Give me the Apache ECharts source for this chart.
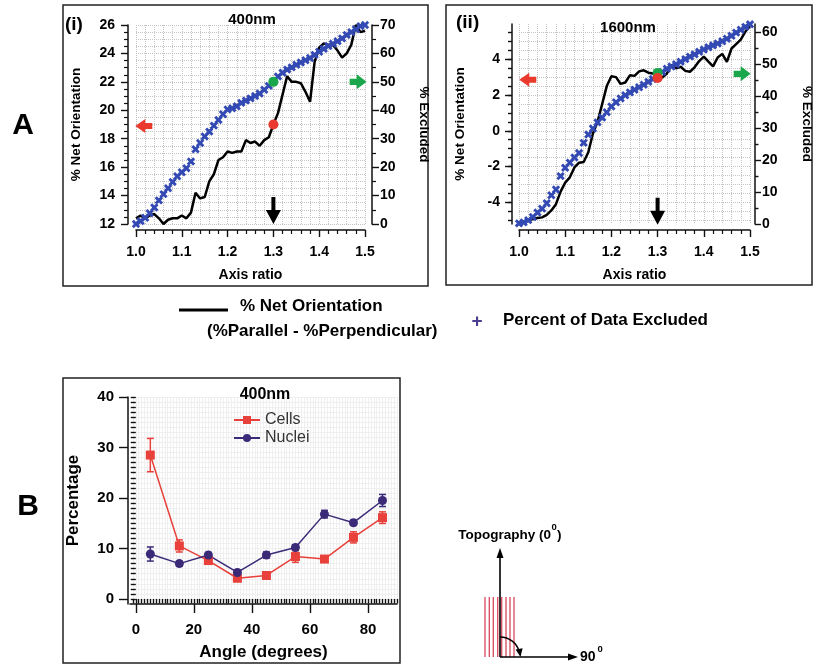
<!DOCTYPE html>
<html><head><meta charset="utf-8">
<script src="https://cdn.jsdelivr.net/npm/echarts@6/dist/echarts.min.js"></script>
<style>html,body{margin:0;padding:0;background:#fff}#c{width:815px;height:669px}</style>
</head><body><div id="c"></div>
<script>
// ---------------- DATA ----------------
const axisRatio = [1.00,1.01,1.02,1.03,1.04,1.05,1.06,1.07,1.08,1.09,1.10,1.11,1.12,1.13,1.14,1.15,1.16,1.17,1.18,1.19,1.20,1.21,1.22,1.23,1.24,1.25,1.26,1.27,1.28,1.29,1.30,1.31,1.32,1.33,1.34,1.35,1.36,1.37,1.38,1.39,1.40,1.41,1.42,1.43,1.44,1.45,1.46,1.47,1.48,1.49,1.50];
const netOrient400 = [12.4,12.6,12.4,12.6,12.7,12.4,12.0,12.3,12.4,12.4,
  12.6,12.4,12.8,14.2,13.8,13.9,15.0,15.5,16.5,16.7,
  17.1,17.0,17.1,17.1,17.9,17.7,17.8,17.5,17.9,18.1,
  19.0,19.8,21.1,22.4,22.0,22.0,21.9,21.3,20.6,23.4,
  24.4,24.7,24.6,24.6,24.2,23.7,24.0,24.6,26.0,25.5,25.6];
const excluded400 = [0,1.0,2.2,3.8,5.8,8.3,10.5,12.6,14.8,16.8,
  18.2,19.6,22.0,26.3,28.5,30.8,32.5,34.6,36.6,38.6,
  40.3,40.7,41.4,42.6,43.4,44.2,45.0,45.9,47.2,48.6,
  50.1,51.9,53.2,54.3,55.1,56.0,56.8,57.6,58.4,59.5,
  60.6,61.6,62.6,63.4,64.3,65.3,66.5,67.5,68.5,69.6,70.0];
const netOrient1600 = [-5.15,-5.1,-5.02,-4.93,-4.88,-4.84,-4.7,-4.45,-4.1,-3.4,
  -2.9,-2.6,-2.05,-1.78,-1.74,-1.2,-0.15,0.5,1.5,2.5,
  3.05,3.0,2.62,2.7,3.1,3.07,3.32,3.38,3.25,3.2,
  2.95,2.98,3.2,3.68,3.5,3.58,3.35,3.3,3.55,3.9,
  4.15,3.87,3.6,4.1,4.3,3.85,4.6,4.85,5.1,5.55,5.85];
const excluded1600 = [0.2,0.5,1.2,2.2,3.6,4.8,6.5,9.0,10.8,15.0,
  17.6,19.2,20.8,22.2,25.4,28.0,29.9,31.8,33.3,35.0,
  36.8,38.1,39.3,40.3,41.2,42.0,42.8,43.6,44.5,45.4,
  46.5,47.6,48.6,49.3,50.0,50.8,51.6,52.4,53.1,53.9,
  54.6,55.3,55.9,56.5,57.2,58.0,58.9,59.9,60.8,61.7,62.5];
// highlighted points at axis ratio 1.3
const mark400 = {x:1.3, orient:19.0, excl:50.0};
const mark1600 = {x:1.3, orient:2.95, excl:47.3};

const angles    = [5,15,25,35,45,55,65,75,85];
const cellsPct  = [28.5,10.5,7.6,4.1,4.65,8.4,7.9,12.2,16.1];
const cellsErr  = [3.3,1.2,0.6,0.5,0.5,1.15,0.6,1.1,1.15];
const nucleiPct = [8.9,7.0,8.7,5.25,8.7,10.2,16.8,15.1,19.5];
const nucleiErr = [1.4,0.5,0.5,0.5,0.6,0.5,0.75,0.5,1.2];

// tick labels
const orientTicks1600 = [-4,-2,0,2,4];
const exclTicks1600 = [0,10,20,30,40,50,60];
const pctTicks = [0,10,20,30,40];
const angleTicks = [0,20,40,60,80];

// ---------------- STYLE ----------------
function range(a,b,s){const r=[];for(let k=0;a+k*s<=b+1e-9;k++)r.push(+(a+k*s).toFixed(4));return r;}
const orientMinor1600 = range(-5,5.5,0.5);
const exclMinor1600 = range(5,55,10);
const pctMinor = range(0,40,1);
const angleMinor = range(-1,90,1);

const FONT = "'Liberation Sans', Arial, Helvetica, sans-serif";
function bold(size,color){return {fontFamily:FONT,fontWeight:'bold',fontSize:size,color:color||'#000'};}
const AXC = '#111';
const axisLine = {show:true,onZero:false,lineStyle:{color:AXC,width:1.5}};
function tick(len,vals){const t={show:true,length:len,lineStyle:{color:AXC,width:1.4}};if(vals)t.customValues=vals;return t;}
const dotted = {show:true,lineStyle:{color:'#c4c4c4',type:'dotted',width:1}};
const BLUE = '#3349b3', RED = '#ea3a2e', GREEN = '#1aa64a';
const CELLS = '#e8403a', NUC = '#3b2a78';
const CROSS = 'path://M3.4,0H6.6V3.4H10V6.6H6.6V10H3.4V6.6H0V3.4H3.4Z';
const LEFT_ARROW = 'path://M0,7L10,0L10,4L17,4L17,10L10,10L10,14Z';
const RIGHT_ARROW = 'path://M17,7L7,0L7,4L0,4L0,10L7,10L7,14Z';
const DOWN_ARROW = 'path://M5.5,0H9.5V13H15L7.5,27L0,13H5.5Z';
const zip = (xs,ys)=>xs.map((x,i)=>[x,ys[i]]);

function ratioAxis(g){
  return {gridIndex:g,type:'value',position:'bottom',min:1.0,max:1.5,interval:0.1,offset:6,
    axisLine,axisTick:tick(7),
    minorTick:{show:true,splitNumber:5,length:4,lineStyle:{color:AXC,width:1.2}},
    axisLabel:{...bold(14),margin:15,formatter:v=>v.toFixed(1)},
    splitLine:dotted,minorSplitLine:dotted,
    name:'Axis ratio',nameLocation:'middle',nameGap:38,nameTextStyle:bold(14)};
}
function errSeries(name,vals,errs,color){
  return {type:'custom',name,xAxisIndex:2,yAxisIndex:6,z:3,
    data:angles.map((a,i)=>[a,vals[i]-errs[i],vals[i]+errs[i]]),
    encode:{x:0,y:[1,2]},
    renderItem(params,api){
      const x=api.value(0);
      const lo=api.coord([x,api.value(1)]), hi=api.coord([x,api.value(2)]);
      const w=3.5, st={stroke:color,lineWidth:1.5};
      return {type:'group',children:[
        {type:'line',shape:{x1:lo[0],y1:lo[1],x2:hi[0],y2:hi[1]},style:st},
        {type:'line',shape:{x1:lo[0]-w,y1:lo[1],x2:lo[0]+w,y2:lo[1]},style:st},
        {type:'line',shape:{x1:hi[0]-w,y1:hi[1],x2:hi[0]+w,y2:hi[1]},style:st}]};
    }};
}
function mark(xi,yi,pt,symbol,size,color,z){
  return {type:'scatter',xAxisIndex:xi,yAxisIndex:yi,data:[pt],symbol,symbolSize:size,
    itemStyle:{color,opacity:1},z:z||6,silent:true};
}
function txt(x,y,text,size,opt){
  opt=opt||{};
  return {type:'text',x,y,z:10,style:{text,fill:opt.fill||'#000',
    font:(opt.weight||'bold')+' '+size+'px '+FONT,align:opt.align||'left',verticalAlign:'middle'}};
}

const option = {
  animation:false,
  textStyle:{fontFamily:FONT},
  grid:[
    {left:136,top:25,width:229,height:199,outerBoundsMode:'none',containLabel:false},
    {left:519,top:24,width:231,height:200,outerBoundsMode:'none',containLabel:false},
    {left:130,top:397,width:267,height:207,outerBoundsMode:'none',containLabel:false}
  ],
  xAxis:[
    ratioAxis(0),
    ratioAxis(1),
    {gridIndex:2,type:'value',position:'bottom',min:-2,max:90,axisLine,axisTick:tick(9,angleTicks),
      axisLabel:{...bold(15),margin:18,customValues:angleTicks},splitLine:{show:false},
      name:'Angle (degrees)',nameLocation:'middle',nameGap:40,nameTextStyle:bold(17)},
    {gridIndex:2,type:'value',position:'bottom',min:-2,max:90,axisLine:{show:false},axisTick:tick(4.5,angleMinor),
      axisLabel:{show:false},splitLine:{show:true,lineStyle:{color:'#efefef',width:1}}}
  ],
  yAxis:[
    {gridIndex:0,type:'value',position:'left',min:12,max:26,interval:2,offset:8,axisLine,axisTick:tick(7),
      minorTick:{show:true,splitNumber:4,length:4,lineStyle:{color:AXC,width:1.2}},
      axisLabel:{...bold(14),margin:13},splitLine:dotted,minorSplitLine:dotted,
      name:'% Net Orientation',nameLocation:'middle',nameGap:45,nameTextStyle:bold(13.5)},
    {gridIndex:0,type:'value',position:'right',min:0,max:70,interval:10,offset:7,axisLine,axisTick:tick(7),
      minorTick:{show:true,splitNumber:2,length:4,lineStyle:{color:AXC,width:1.2}},
      axisLabel:{...bold(14),margin:8},splitLine:{show:false},
      name:'% Excluded',nameLocation:'middle',nameRotate:-90,nameGap:45,nameTextStyle:bold(13.5)},
    {gridIndex:1,type:'value',position:'left',min:-5.21,max:5.97,offset:7,axisLine,axisTick:tick(7,orientTicks1600),
      axisLabel:{...bold(14),margin:12,customValues:orientTicks1600},splitLine:{show:false},
      name:'% Net Orientation',nameLocation:'middle',nameGap:45,nameTextStyle:bold(13.5)},
    {gridIndex:1,type:'value',position:'left',min:-5.21,max:5.97,offset:7,axisLine:{show:false},
      axisTick:tick(4,orientMinor1600),axisLabel:{show:false},splitLine:dotted},
    {gridIndex:1,type:'value',position:'right',min:0,max:62.6,offset:5,axisLine,axisTick:tick(6,exclTicks1600),
      axisLabel:{...bold(14),margin:7,customValues:exclTicks1600},splitLine:{show:false},
      name:'% Excluded',nameLocation:'middle',nameRotate:-90,nameGap:45,nameTextStyle:bold(13.5)},
    {gridIndex:1,type:'value',position:'right',min:0,max:62.6,offset:5,axisLine:{show:false},
      axisTick:tick(3.5,exclMinor1600),axisLabel:{show:false},splitLine:{show:false}},
    {gridIndex:2,type:'value',position:'left',min:-1,max:40,offset:2,axisLine,axisTick:tick(9,pctTicks),
      axisLabel:{...bold(15),margin:14,customValues:pctTicks},splitLine:{show:false},
      name:'Percentage',nameLocation:'middle',nameGap:46,nameTextStyle:bold(17)},
    {gridIndex:2,type:'value',position:'left',min:-1,max:40,offset:2,axisLine:{show:false},
      axisTick:tick(5,pctMinor),axisLabel:{show:false},splitLine:{show:true,lineStyle:{color:'#efefef',width:1}}}
  ],
  legend:{data:['Cells','Nuclei'],orient:'vertical',left:228,top:407,itemWidth:26,itemHeight:10,itemGap:2,
    textStyle:{fontFamily:FONT,fontSize:16,color:'#333'}},
  series:[
    {type:'line',name:'% Net Orientation 400',xAxisIndex:0,yAxisIndex:0,data:zip(axisRatio,netOrient400),
      showSymbol:false,lineStyle:{color:'#000',width:2.5},itemStyle:{color:'#000'},z:3,silent:true},
    {type:'scatter',name:'Excluded 400',xAxisIndex:0,yAxisIndex:1,data:zip(axisRatio,excluded400),
      symbol:CROSS,symbolSize:9,symbolRotate:45,itemStyle:{color:BLUE,opacity:1},z:4,silent:true},
    {type:'line',name:'% Net Orientation 1600',xAxisIndex:1,yAxisIndex:2,data:zip(axisRatio,netOrient1600),
      showSymbol:false,lineStyle:{color:'#000',width:2.5},itemStyle:{color:'#000'},z:3,silent:true},
    {type:'scatter',name:'Excluded 1600',xAxisIndex:1,yAxisIndex:4,data:zip(axisRatio,excluded1600),
      symbol:CROSS,symbolSize:9,symbolRotate:45,itemStyle:{color:BLUE,opacity:1},z:4,silent:true},
    mark(0,1,[mark400.x,mark400.excl],'circle',10,GREEN),
    mark(0,0,[mark400.x,mark400.orient],'circle',10,RED),
    mark(1,4,[mark1600.x,mark1600.excl],'circle',10,GREEN),
    mark(1,2,[mark1600.x,mark1600.orient],'circle',10,RED),
    mark(0,0,[1.017,18.9],LEFT_ARROW,[17,14],RED),
    mark(0,1,[1.485,50],RIGHT_ARROW,[17,15],GREEN),
    mark(0,0,[1.3,12.95],DOWN_ARROW,[15,27],'#000'),
    mark(1,2,[1.019,2.85],LEFT_ARROW,[17,14],RED),
    mark(1,4,[1.483,47],RIGHT_ARROW,[17,15],GREEN),
    mark(1,2,[1.3,-4.5],DOWN_ARROW,[15,27],'#000'),
    errSeries('Cells err',cellsPct,cellsErr,CELLS),
    errSeries('Nuclei err',nucleiPct,nucleiErr,NUC),
    {type:'line',name:'Cells',xAxisIndex:2,yAxisIndex:6,data:zip(angles,cellsPct),symbol:'rect',symbolSize:9,
      lineStyle:{color:CELLS,width:1.5},itemStyle:{color:CELLS},z:4},
    {type:'line',name:'Nuclei',xAxisIndex:2,yAxisIndex:6,data:zip(angles,nucleiPct),symbol:'circle',symbolSize:9,
      lineStyle:{color:NUC,width:1.5},itemStyle:{color:NUC},z:4}
  ],
  graphic:[
    {type:'rect',shape:{x:63,y:5,width:365,height:281},style:{fill:'none',stroke:'#222',lineWidth:1.5}},
    {type:'rect',shape:{x:446,y:5,width:366,height:280},style:{fill:'none',stroke:'#222',lineWidth:1.5}},
    {type:'rect',shape:{x:63,y:378,width:337,height:285},style:{fill:'none',stroke:'#222',lineWidth:1.5}},
    txt(23,126,'A',30,{align:'center'}),
    txt(28,507,'B',30,{align:'center'}),
    txt(65,25,'(i)',19),
    txt(456,23,'(ii)',19),
    txt(252,20,'400nm',15,{align:'center'}),
    txt(628,28,'1600nm',15,{align:'center'}),
    txt(265,395,'400nm',16,{align:'center'}),
    // legend of panel A
    {type:'line',shape:{x1:179,y1:310,x2:228,y2:310},style:{stroke:'#000',lineWidth:3}},
    txt(240,306,'% Net Orientation',17),
    txt(207,331,'(%Parallel - %Perpendicular)',17),
    txt(477,322,'+',19,{align:'center',fill:'#4b3d8f'}),
    txt(503,320,'Percent of Data Excluded',17),
    // topography diagram
    ...[485,489.3,493.3,497.7,501.7,506,510,514].map(x=>({type:'line',shape:{x1:x,y1:597,x2:x,y2:657},style:{stroke:'#d9485f',lineWidth:1.3}})),
    {type:'line',shape:{x1:500,y1:657,x2:500,y2:556},style:{stroke:'#000',lineWidth:1.6}},
    {type:'polygon',shape:{points:[[500,548],[496.5,558],[503.5,558]]},style:{fill:'#000'}},
    {type:'line',shape:{x1:500,y1:657,x2:570,y2:657},style:{stroke:'#000',lineWidth:1.6}},
    {type:'polygon',shape:{points:[[578,657],[568,653.5],[568,660.5]]},style:{fill:'#000'}},
    {type:'arc',shape:{cx:500,cy:657,r:20,startAngle:-Math.PI/2,endAngle:-0.25,clockwise:true},style:{stroke:'#000',lineWidth:1.5,fill:'none'}},
    {type:'polygon',shape:{points:[[520.5,657],[515.6,649.5],[522.6,648.2]]},style:{fill:'#000'}},
    txt(551,535,'Topography (0',13.5,{align:'right'}),
    txt(551.5,527,'0',9.5),
    txt(557,535,')',13.5),
    txt(580,657,'90',14),
    txt(597.5,649,'0',9.5)
  ]
};
echarts.init(document.getElementById('c')).setOption(option);
</script></body></html>
